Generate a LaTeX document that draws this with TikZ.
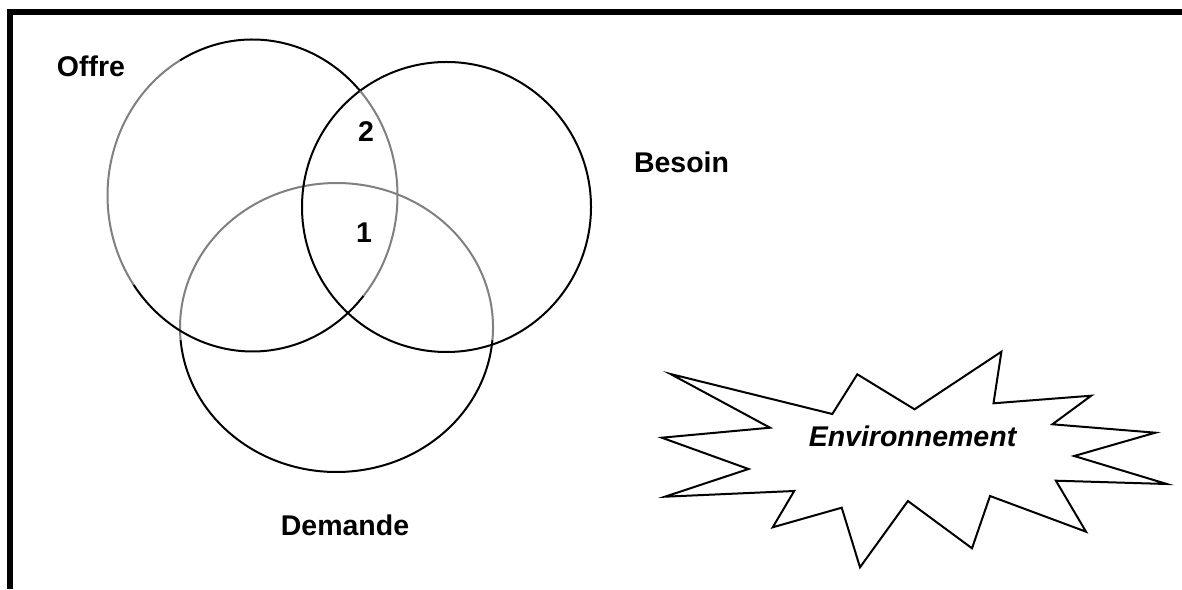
\documentclass[tikz,border=0pt]{standalone}
\usepackage{fontspec}
\setmainfont{Liberation Sans}
\begin{document}
\begin{tikzpicture}[x=1pt,y=1pt,
  lbl/.style={font=\fontsize{28.5}{34}\selectfont\bfseries, anchor=base, inner sep=0pt},
  blk/.style={draw=black, line width=2pt},
  gry/.style={draw=black!50, line width=2pt},
  frame/.style={line width=6pt, line join=miter}]
\useasboundingbox (0,0) rectangle (1182,589);
\fill[white] (0,0) rectangle (1182,589);
% frame (cropped box)
\draw[frame] (10.3,0) -- (10.3,576.7) -- (1182,576.7);
% centres
\coordinate (offre) at (252.5,393.5);
\coordinate (besoin) at (446.5,382);
\coordinate (demande) at (336.5,261.5);
% Demande ellipse
\draw[blk] (demande) ++(185:156.5 and 144.5) arc[start angle=185, end angle=355, x radius=156.5, y radius=144.5];
\draw[gry] (demande) ++(-5:156.5 and 144.5) arc[start angle=-5, end angle=185, x radius=156.5, y radius=144.5];
% Besoin circle
\draw[blk] (besoin) circle[x radius=144.5, y radius=145];
% Offre ellipse
\draw[blk] (offre) ++(42:145 and 156) arc[start angle=42, end angle=120, x radius=145, y radius=156];
\draw[gry] (offre) ++(120:145 and 156) arc[start angle=120, end angle=215, x radius=145, y radius=156];
\draw[blk] (offre) ++(215:145 and 156) arc[start angle=215, end angle=320, x radius=145, y radius=156];
\draw[gry] (offre) ++(320:145 and 156) arc[start angle=320, end angle=402, x radius=145, y radius=156];
% labels
\node[lbl] (tOffre) at (91,512) {Offre};
\node[lbl] (tBesoin) at (681.5,416) {Besoin};
\node[lbl] (tDemande) at (345,54) {Demande};
\node[lbl] (tDeux) at (366,447) {2};
\node[lbl] (tUn) at (364,346) {1};
% starburst
\draw[black, line width=2pt, line join=miter, fill=white]
  (670.5,215) -- (832.3,175) -- (857.3,214.7) -- (914.5,179.7) -- (1001.4,237.3)
  -- (993.5,185.7) -- (1091.2,193.3) -- (1052.4,164.7) -- (1155.3,156.3)
  -- (1074.2,133) -- (1166.8,105) -- (1055.9,108.3) -- (1086,57.3)
  -- (990,93) -- (972,40.7) -- (907.9,88) -- (860,21.7) -- (841.7,81.3)
  -- (772.7,61.7) -- (794.2,98) -- (665,92.3) -- (748.5,120) -- (661.8,151.3)
  -- (770,161.3) -- cycle;
\node[lbl, font=\fontsize{28.5}{34}\selectfont\bfseries\itshape] (tEnv) at (912.5,142) {Environnement};
\end{tikzpicture}
\end{document}
